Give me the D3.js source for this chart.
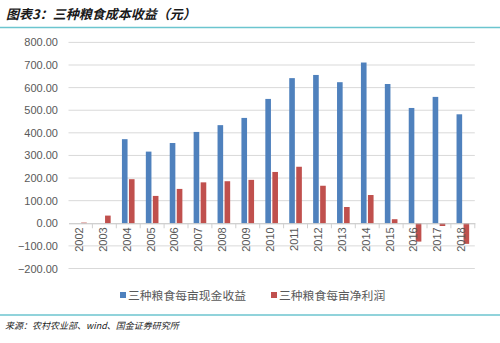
<!DOCTYPE html>
<html>
<head>
<meta charset="utf-8">
<script src="https://cdn.jsdelivr.net/npm/d3@7"></script>
<style>
  body { margin: 0; background: #fff; }
  svg { display: block; }
</style>
</head>
<body>
<svg id="chart" width="500" height="343"></svg>
<script>
// 三种粮食成本收益（元），2002–2018
const years = ["2002","2003","2004","2005","2006","2007","2008","2009","2010",
               "2011","2012","2013","2014","2015","2016","2017","2018"];
const cashIncome = [null, null, 372, 317, 355, 404, 434, 466, 550,
                    642, 656, 624, 711, 616, 510, 559, 482];
const netProfit  = [3, 34, 195, 121, 152, 181, 186, 192, 227,
                    250, 166, 72, 125, 18, -81, -12, -91];
const yTicks = [-200, -100, 0, 100, 200, 300, 400, 500, 600, 700, 800];
const seriesNames = ["三种粮食每亩现金收益", "三种粮食每亩净利润"];
const seriesColors = ["#4F81BD", "#C0504D"];

const svg = d3.select("#chart");
const font = "'Noto Sans CJK SC', 'Noto Sans', sans-serif";

// title and rules
svg.append("text")
  .attr("x", 6).attr("y", 19)
  .attr("font-family", font).attr("font-size", 13).attr("font-weight", "bold")
  .attr("font-style", "italic").attr("fill", "#1a1a1a")
  .text("图表3：三种粮食成本收益（元）");
svg.append("line").attr("x1", 0).attr("x2", 500).attr("y1", 27.5).attr("y2", 27.5)
  .attr("stroke", "#6CC5CF").attr("stroke-width", 1.5);
svg.append("line").attr("x1", 0).attr("x2", 500).attr("y1", 315).attr("y2", 315)
  .attr("stroke", "#6CC5CF").attr("stroke-width", 1.5);
svg.append("text")
  .attr("x", 5).attr("y", 329)
  .attr("font-family", font).attr("font-size", 9)
  .attr("font-style", "italic").attr("fill", "#222")
  .text("来源：农村农业部、wind、国金证券研究所");

// scales
const x = d3.scaleBand().domain(years).range([68.5, 474.8]);
const y = d3.scaleLinear().domain([-200, 800]).range([268.5, 42.4]);

// gridlines
svg.append("g").selectAll("line").data(yTicks.filter(v => v !== 0)).join("line")
  .attr("x1", 68.5).attr("x2", 474.8)
  .attr("y1", d => y(d)).attr("y2", d => y(d))
  .attr("stroke", "#D9D9D9").attr("stroke-width", 1);

// y-axis labels
const yAxis = d3.axisLeft(y).tickValues(yTicks).tickSize(0).tickPadding(8)
  .tickFormat(d => d3.format(".2f")(d));
const gy = svg.append("g").attr("transform", "translate(66,0)").call(yAxis);
gy.select(".domain").remove();
gy.selectAll("text").attr("font-family", "'Liberation Sans', Arial, sans-serif")
  .attr("font-size", 11).attr("fill", "#595959");

// bars
const bw = x.step() * 0.235;
const gap = 1.4;
const barG = svg.append("g");
barG.selectAll("rect.cash").data(years.map((yr, i) => ({yr, v: cashIncome[i]})).filter(d => d.v != null))
  .join("rect").attr("class", "cash")
  .attr("x", d => x(d.yr) + x.bandwidth() / 2 - gap / 2 - bw)
  .attr("width", bw)
  .attr("y", d => y(Math.max(0, d.v)))
  .attr("height", d => Math.abs(y(d.v) - y(0)))
  .attr("fill", seriesColors[0]);
barG.selectAll("rect.profit").data(years.map((yr, i) => ({yr, v: netProfit[i]})))
  .join("rect").attr("class", "profit")
  .attr("x", d => x(d.yr) + x.bandwidth() / 2 + gap / 2)
  .attr("width", bw)
  .attr("y", d => y(Math.max(0, d.v)))
  .attr("height", d => Math.abs(y(d.v) - y(0)))
  .attr("fill", seriesColors[1]);

// category axis at zero
const xAxis = d3.axisBottom(x).tickSize(5).tickSizeOuter(0);
const gx = svg.append("g").attr("transform", `translate(0,${y(0)})`).call(xAxis);
gx.select(".domain").attr("stroke", "#BFBFBF");
gx.selectAll(".tick line").attr("stroke", "#D0D0D0")
  .attr("transform", `translate(${x.step() / 2},0)`);
gx.selectAll("text")
  .attr("font-family", "'Liberation Sans', Arial, sans-serif")
  .attr("font-size", 11).attr("fill", "#595959")
  .attr("transform", "rotate(-90)")
  .attr("text-anchor", "end")
  .attr("dx", "-4").attr("dy", "-0.05em")
  .attr("x", 0).attr("y", 0)
  .style("dominant-baseline", "middle");

// legend
const legend = svg.append("g");
const legendX = [120, 271];
seriesNames.forEach((name, i) => {
  legend.append("rect").attr("x", legendX[i]).attr("y", 292).attr("width", 6).attr("height", 6)
    .attr("fill", seriesColors[i]);
  legend.append("text").attr("x", legendX[i] + 8).attr("y", 299.5)
    .attr("font-family", font).attr("font-size", 11.8).attr("fill", "#595959")
    .text(name);
});
</script>
</body>
</html>
